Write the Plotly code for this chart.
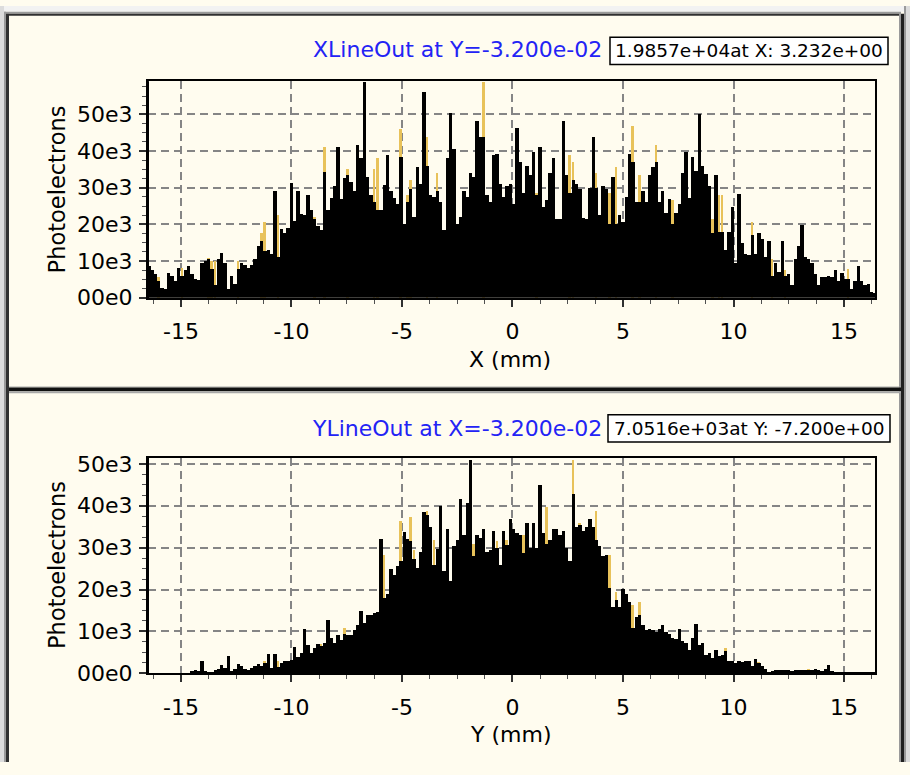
import numpy as np
import plotly.graph_objects as go

# ---------------- data (values in thousands of photoelectrons) ----------------
bin_start_mm = -16.45
bin_step_mm = 0.15

x_lineout_k = [
    8.6, 7.5, 6.5, 4.5, 2.5, 2.4, 6.8, 5.8, 4.5, 8.2,
    6, 7.5, 8.5, 6.5, 5, 4.8, 9.5, 10, 10.4, 7.7,
    3.3, 10.4, 12.2, 9.5, 2.4, 6, 3.7, 7.7, 9.5, 8.8,
    8, 8.8, 10.4, 14, 15.3, 12.6, 13, 12, 29, 11,
    18.8, 17.5, 19, 31.3, 21, 29, 22.8, 22.5, 28, 24,
    21.5, 19.5, 18.4, 34.4, 24, 27.3, 30.4, 41, 27, 32.6,
    33.5, 31.5, 29, 41.5, 38, 58.8, 33, 28, 26, 24,
    24, 30.8, 38.8, 29, 27.3, 25.5, 38.4, 20, 26, 29.5,
    22, 35.7, 31, 56.2, 36, 28, 27.5, 29, 26, 18.4,
    38, 50.4, 40.6, 20, 22, 29, 27.5, 34, 33, 48.2,
    43.7, 43.7, 28, 26, 38.8, 39.3, 31, 27.5, 30.4, 31,
    25.5, 46.4, 37, 28.6, 36, 33.5, 39.7, 28, 41, 24.6,
    26.5, 34, 38, 21.5, 21.5, 48.2, 33.5, 28.5, 32, 31,
    29.5, 21.8, 21.5, 30, 43.7, 30, 22.5, 30.5, 29.5, 20,
    33, 20, 22.5, 20.5, 27.5, 39.3, 37, 26, 26, 29,
    26, 33.5, 35.5, 37, 26, 29, 23, 27, 20, 23,
    25.5, 34, 39.7, 27.3, 38.4, 34.5, 50, 36, 33.8, 30.4,
    17.5, 33.5, 18, 18, 13, 18, 24.6, 9.5, 28.2, 15,
    12, 11.5, 17, 12, 17.5, 16, 11, 15.3, 6, 9.5,
    7, 15.3, 6, 6.5, 3.3, 10.4, 14, 19.7, 11, 10.4,
    9.5, 6.5, 3.3, 5.5, 5.5, 6, 5.5, 7.5, 4.5, 6.8,
    5.2, 5, 2.4, 4.6, 8.6, 4.6, 3.3, 3.7, 1.5, 1.2,
]
# second (yellow) trace: only the bins where it rises above the black one
x_yellow_bins = [3, 10, 18, 19, 20, 27, 34, 35, 39, 50, 53, 60, 68, 69, 76, 78, 79,
                 84, 87, 101, 117, 127, 128, 135, 139, 141, 146, 148, 153, 158,
                 170, 172, 173, 182, 188, 192, 211]
x_yellow_k = [5.5, 8, 10.8, 10, 10, 10, 17.5, 20.6, 22.4, 22, 41, 35, 35, 38, 46, 28, 32,
              43.7, 34, 58.8, 28.6, 38.8, 37, 34, 28.6, 35.5, 46.8, 33.5, 41.5, 26.5,
              21.5, 28, 28, 20.5, 10.4, 7.5, 7.7]

y_lineout_k = [
    0, 0, 0, 0, 0, 0, 0, 0, 0, 0,
    0, 0, 0, 0.5, 0.8, 0.6, 3.1, 0.5, 0.3, 0.3,
    0.8, 1, 2.1, 1.3, 4.3, 0.6, 1, 2.3, 1.7, 1.1,
    0.8, 1.3, 1.9, 2.3, 1.9, 2.5, 4.6, 1.4, 4.7, 1.5,
    2.5, 2.9, 3.1, 3.3, 6.4, 4, 4.9, 10.7, 6.8, 4.9,
    6, 7, 6.5, 7.2, 12.7, 8.5, 7.3, 9.2, 8, 9.5,
    9.2, 9.2, 10.3, 11.5, 15, 12, 13.9, 13.9, 14.5, 14.6,
    32.2, 18, 19, 25, 23.6, 25.7, 26.8, 33.8, 32.2, 31.7,
    27.4, 25.3, 29, 38.5, 38, 35, 26, 29.7, 40, 24.4,
    34.6, 22, 30.5, 32, 41.6, 33, 40.8, 51, 28, 33,
    32.5, 34.6, 29, 29.5, 34, 30, 26, 34, 30.7, 37,
    34.5, 33.5, 33, 28.7, 36, 30, 36, 30, 45, 33.5,
    31, 32, 34.5, 34.5, 33, 34, 30, 26.8, 42.8, 35,
    35.5, 34, 35, 37, 35, 32, 30.5, 28, 28.3, 20.5,
    16, 17.6, 16, 20.1, 19, 17, 11, 13.5, 14, 11.5,
    10.3, 10.7, 10.3, 10, 10.7, 11.5, 10, 9.5, 8.6, 8.2,
    10.7, 7.9, 7.2, 5.6, 8.6, 11.9, 6.8, 7.2, 4.5, 4.9,
    3.7, 5.6, 4.1, 4.5, 5.4, 3, 2.9, 2.5, 2.9, 2.7,
    2.9, 2.9, 1.7, 3.6, 2.5, 1.7, 1, 0.3, 0.6, 0.8,
    0.8, 0.8, 0.8, 0.8, 0.7, 0.8, 0.8, 0.8, 0.9, 0.9,
    0.9, 1, 0.9, 0.6, 1, 2.1, 0.5, 0.2, 0.2, 0.2,
    0.2, 0.2, 0.2, 0.2, 0.2, 0.2, 0.2, 0.2, 0.2, 0.2,
]
y_yellow_bins = [35, 39, 52, 59, 71, 76, 79, 80, 84, 86, 98, 105, 108, 113, 120, 128,
                 130, 135, 139, 141, 146, 148, 174, 180, 184, 199]
y_yellow_k = [2.9, 2.9, 7, 11, 28.3, 36.5, 37.3, 29.5, 38.8, 32, 31, 31.7, 32, 33, 39.7, 51,
              36, 38.9, 28.3, 19.6, 16.5, 17, 6, 3.1, 2.7, 1.2]

x_tick_vals = [-15, -10, -5, 0, 5, 10, 15]
x_tick_text = ["-15", "-10", "-5", "0", "5", "10", "15"]
y_tick_vals = [0, 10000, 20000, 30000, 40000, 50000]
y_tick_text = ["00e0", "10e3", "20e3", "30e3", "40e3", "50e3"]

top_title = "XLineOut at Y=-3.200e-02"
top_readout = "1.9857e+04at X: 3.232e+00"
bot_title = "YLineOut at X=-3.200e-02"
bot_readout = "7.0516e+03at Y: -7.200e+00"

# ---------------- figure ----------------
W, H = 910, 775
CREAM = "#FFFCEF"
BLACK = "#000000"
YELLOW = "#E8C25A"
FONT = "DejaVu Sans"


def px(x):
    return x / W


def py(y):
    return 1 - y / H


xs = bin_start_mm + bin_step_mm * np.arange(len(x_lineout_k))
ys_pos = bin_start_mm + bin_step_mm * np.arange(len(y_lineout_k))
yellow_w = 0.09

fig = go.Figure()
fig.add_trace(go.Bar(x=xs[x_yellow_bins], y=np.array(x_yellow_k) * 1000, width=yellow_w,
                     marker=dict(color=YELLOW, line=dict(width=0)), xaxis="x", yaxis="y",
                     hoverinfo="skip"))
fig.add_trace(go.Bar(x=xs, y=np.array(x_lineout_k) * 1000, width=bin_step_mm,
                     marker=dict(color=BLACK, line=dict(width=0)), xaxis="x", yaxis="y"))
fig.add_trace(go.Bar(x=ys_pos[y_yellow_bins], y=np.array(y_yellow_k) * 1000, width=yellow_w,
                     marker=dict(color=YELLOW, line=dict(width=0)), xaxis="x2", yaxis="y2",
                     hoverinfo="skip"))
fig.add_trace(go.Bar(x=ys_pos, y=np.array(y_lineout_k) * 1000, width=bin_step_mm,
                     marker=dict(color=BLACK, line=dict(width=0)), xaxis="x2", yaxis="y2"))

tickfont = dict(family=FONT, size=22, color=BLACK)
grid = dict(showgrid=True, gridcolor="#858585", gridwidth=1.5, griddash="8px,5px")
xdom = [px(148), px(875)]


def xaxis_cfg(anchor):
    return dict(domain=xdom, range=[-16.49, 16.4], anchor=anchor, tickmode="array",
                tickvals=x_tick_vals, ticktext=x_tick_text, ticks="outside", ticklen=7,
                tickwidth=1.5, tickcolor="#303030", tickfont=tickfont,
                showline=True, linecolor=BLACK, linewidth=2, mirror=True, zeroline=False,
                minor=dict(ticks="outside", ticklen=4, tickwidth=1, tickcolor="#505050",
                           tick0=0, dtick=1.25, showgrid=False),
                ticklabelstandoff=6, **grid)


def yaxis_cfg(anchor, dom, top):
    return dict(domain=dom, range=[0, top], anchor=anchor, tickmode="array",
                tickvals=y_tick_vals, ticktext=y_tick_text, ticks="outside", ticklen=7,
                tickwidth=1.5, tickcolor="#303030", tickfont=tickfont,
                showline=True, linecolor=BLACK, linewidth=2, mirror=True, zeroline=False,
                minor=dict(ticks="outside", ticklen=4, tickwidth=1, tickcolor="#505050",
                           tick0=0, dtick=2500, showgrid=False),
                ticklabelstandoff=2, **grid)


shapes = []


def rect(x0, y0, x1, y1, color):
    shapes.append(dict(type="rect", xref="paper", yref="paper", x0=px(x0), x1=px(x1),
                       y0=py(y1), y1=py(y0), fillcolor=color, line=dict(width=0),
                       layer="above"))


# window frame
rect(0, 0, W, 6, "#F2F2F2")
rect(0, 0, 4, H, "#DCDCDC")
rect(4, 6, 6, H, "#9A9A9A")
rect(6, 8, 9, H, "#303030")
rect(4, 6, 899, 8, "#9A9A9A")
rect(6, 8, 899, 10, "#303030")
rect(899, 6, 901, H, "#9A9A9A")
rect(901, 8, 904, H, "#202020")
rect(904, 0, 906, H, "#9A9A9A")
rect(906, 0, W, H, "#DCDCDC")
# separator between the two panels
rect(9, 390, 901, 391, "#A8A8A8")
rect(9, 391, 901, 395, "#111111")
rect(9, 395, 901, 397, "#A8A8A8")
# thicker left axis lines
rect(146, 77, 149, 300, BLACK)
rect(146, 463, 149, 684, BLACK)
# readout boxes
for (x0, y0, x1, y1) in [(610, 32, 888, 60), (608, 419, 890, 447)]:
    shapes.append(dict(type="rect", xref="paper", yref="paper", x0=px(x0), x1=px(x1),
                       y0=py(y1), y1=py(y0), fillcolor="#FFFFFF",
                       line=dict(color=BLACK, width=1.5), layer="below"))

annotations = []


def text(s, x, y, size, color=BLACK, xanchor="center", angle=0):
    annotations.append(dict(text=s, x=px(x), y=py(y), xref="paper", yref="paper",
                            showarrow=False, xanchor=xanchor, yanchor="middle",
                            textangle=angle, font=dict(family=FONT, size=size, color=color)))


text(top_title, 604, 45, 22, "#2323F5", "right")
text(top_readout, 749, 46, 18.5)
text(bot_title, 604, 433, 22, "#2323F5", "right")
text(bot_readout, 749, 433, 18.5)
text("Photoelectrons", 57, 188, 22.5, angle=-90)
text("Photoelectrons", 57, 573, 22.5, angle=-90)
text("X (mm)", 510, 362, 22)
text("Y (mm)", 510, 747, 22)

fig.update_layout(
    width=W, height=H, margin=dict(l=0, r=0, t=0, b=0),
    paper_bgcolor=CREAM, plot_bgcolor=CREAM,
    barmode="overlay", bargap=0, showlegend=False,
    xaxis=xaxis_cfg("y"),
    yaxis=yaxis_cfg("x", [py(299), py(77)], 59100),
    xaxis2=xaxis_cfg("y2"),
    yaxis2=yaxis_cfg("x2", [py(684), py(463)], 51500),
    shapes=shapes, annotations=annotations,
)

fig.write_html("out.html")
